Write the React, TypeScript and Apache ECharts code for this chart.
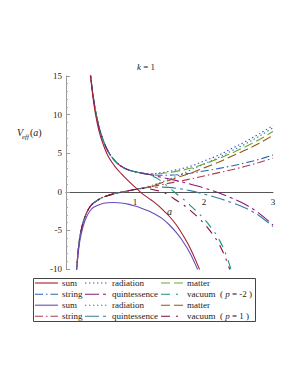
import React, { useEffect, useRef } from "react";
import * as echarts from "echarts";

// ---- data ----
const aUpHead = [0.345, 0.4, 0.45, 0.5, 0.6, 0.7, 0.8, 0.9, 1.0, 1.1];
const vUpHead = [15.9, 12.0, 9.5, 7.7, 5.4, 4.1, 3.3, 2.85, 2.6, 2.42];

const aLowHead = [0.145, 0.17, 0.2, 0.25, 0.3, 0.35, 0.4, 0.5, 0.6, 0.7, 0.8, 0.9, 1.0, 1.1];
const vLowHead = [-11.2, -8.3, -5.9, -3.9, -2.7, -1.9, -1.45, -0.85, -0.5, -0.25, -0.05, 0.12, 0.3, 0.45];

const aTail = [1.2, 1.4, 1.6, 1.8, 2.0, 2.2, 2.4, 2.6, 2.8, 3.0];
const radiationUp = [2.32, 2.5, 2.85, 3.3, 4.0, 4.7, 5.6, 6.5, 7.5, 8.6];
const matterUp = [2.28, 2.4, 2.65, 3.05, 3.6, 4.25, 5.0, 5.85, 6.75, 7.8];
const stringUp = [2.25, 2.15, 2.2, 2.4, 2.7, 3.0, 3.35, 3.75, 4.2, 4.75];
const quintUp = [2.25, 1.85, 1.45, 1.0, 0.5, -0.1, -0.8, -1.65, -2.8, -4.3];

const radiationLow = [0.7, 1.3, 2.0, 2.8, 3.6, 4.4, 5.3, 6.2, 7.2, 8.3];
const matterLow = [0.65, 1.2, 1.8, 2.4, 3.1, 3.8, 4.6, 5.4, 6.3, 7.3];
const stringLow = [0.6, 0.95, 1.3, 1.65, 2.05, 2.45, 2.85, 3.3, 3.8, 4.35];
const quintLow = [0.55, 0.6, 0.45, 0.15, -0.3, -0.8, -1.4, -2.1, -3.1, -4.5];

const aVac = [1.2, 1.3, 1.4, 1.5, 1.6, 1.7, 1.8, 1.9, 2.0, 2.1, 2.2, 2.3, 2.4];
const vacuumUp = [2.2, 1.85, 1.25, 0.5, -0.25, -0.95, -1.75, -2.6, -3.5, -4.6, -5.9, -7.7, -10.3];
const vacuumLow = [0.4, 0.2, 0.0, -0.5, -1.1, -1.7, -2.4, -3.2, -4.1, -5.2, -6.5, -8.3, -10.8];

const aSumUp = [0.345, 0.4, 0.45, 0.5, 0.6, 0.7, 0.8, 0.9, 1.0, 1.1, 1.2, 1.3, 1.4, 1.5, 1.6, 1.7, 1.8, 1.9, 1.96];
const sumUp = [15.9, 11.6, 9.0, 7.2, 4.8, 3.4, 2.35, 1.45, 0.6, -0.2, -0.85, -1.5, -2.3, -3.2, -4.3, -5.7, -7.3, -9.3, -10.6];

const aSumLow = [0.145, 0.17, 0.2, 0.25, 0.3, 0.35, 0.4, 0.5, 0.6, 0.7, 0.8, 0.9, 1.0, 1.1, 1.2, 1.3, 1.4, 1.5, 1.6, 1.7, 1.8, 1.9, 1.93];
const sumLow = [-11.3, -8.6, -6.4, -4.4, -3.2, -2.45, -2.0, -1.6, -1.42, -1.38, -1.45, -1.6, -1.85, -2.15, -2.5, -2.95, -3.5, -4.3, -5.3, -6.5, -8.0, -9.9, -10.6];

const xMin = 0, xMax = 3, xStep = 1;
const yMin = -10, yMax = 15, yStep = 5;

const legendLabels = [
  "sum", "radiation", "matter",
  "string", "quintessence", "vacuum  ( {i|p} = -2 )",
  "sum", "radiation", "matter",
  "string", "quintessence", "vacuum  ( {i|p} = 1 )",
];

// ---- styles ----
const FONT = "'Liberation Serif', 'DejaVu Serif', serif";
const DOT = [1.4, 2.6];
const DASH_M = [9, 4];
const DASH_S = [8, 3, 1.5, 3];
const DASH_Q = [14, 4, 3, 4];
const DASH_V = [9, 6, 2, 6];

const styles = [
  { color: "#a3202c", dash: "solid" },  // sum p=-2
  { color: "#3a4fc4", dash: DOT },      // radiation p=-2
  { color: "#6aa82e", dash: DASH_M },   // matter p=-2
  { color: "#2f62ad", dash: DASH_S },   // string p=-2
  { color: "#8a1588", dash: DASH_Q },   // quintessence p=-2
  { color: "#17927f", dash: DASH_V },   // vacuum p=-2
  { color: "#6a4abb", dash: "solid" },  // sum p=1
  { color: "#2d7fa0", dash: DOT },      // radiation p=1
  { color: "#955512", dash: DASH_M },   // matter p=1
  { color: "#b03a4e", dash: DASH_S },   // string p=1
  { color: "#327f9c", dash: DASH_Q },   // quintessence p=1
  { color: "#85093f", dash: DASH_V },   // vacuum p=1
];

function pairs(a: number[], v: number[]) {
  return a.map((x, i) => [x, v[i]]);
}

export default function App() {
  const ref = useRef<HTMLDivElement>(null);
  useEffect(() => {
    const chart = echarts.init(ref.current!, null, { renderer: "svg" });
    const datasets = [
      pairs(aSumUp, sumUp),
      pairs(aUpHead.concat(aTail), vUpHead.concat(radiationUp)),
      pairs(aUpHead.concat(aTail), vUpHead.concat(matterUp)),
      pairs(aUpHead.concat(aTail), vUpHead.concat(stringUp)),
      pairs(aUpHead.concat(aTail), vUpHead.concat(quintUp)),
      pairs(aUpHead.concat(aVac), vUpHead.concat(vacuumUp)),
      pairs(aSumLow, sumLow),
      pairs(aLowHead.concat(aTail), vLowHead.concat(radiationLow)),
      pairs(aLowHead.concat(aTail), vLowHead.concat(matterLow)),
      pairs(aLowHead.concat(aTail), vLowHead.concat(stringLow)),
      pairs(aLowHead.concat(aTail), vLowHead.concat(quintLow)),
      pairs(aLowHead.concat(aVac), vLowHead.concat(vacuumLow)),
    ];
    const series = datasets.map((d, i) => ({
      type: "line",
      data: d,
      smooth: 0.35,
      showSymbol: false,
      symbol: "none",
      clip: true,
      lineStyle: { color: styles[i].color, width: 1.1, type: styles[i].dash },
      z: 2 + (i % 6 === 0 ? 1 : 0),
    }));

    const legendX = [35, 85, 161];
    const legendTextX = [62, 112, 187];
    const legendY = [283, 294.2, 305.2, 316.2];
    const legendEls: any[] = [
      {
        type: "rect",
        shape: { x: 33.5, y: 278.5, width: 222, height: 43 },
        style: { fill: "#fff", stroke: "#444", lineWidth: 1 },
        z: 10,
      },
    ];
    legendLabels.forEach((lab, i) => {
      const r = Math.floor(i / 3);
      const c = i % 3;
      const st = styles[i];
      legendEls.push({
        type: "line",
        shape: { x1: legendX[c], y1: legendY[r], x2: legendX[c] + 23, y2: legendY[r] },
        style: {
          stroke: st.color,
          lineWidth: 1.1,
          lineDash: st.dash === "solid" ? null : st.dash,
        },
        z: 11,
      });
      legendEls.push({
        type: "text",
        x: legendTextX[c],
        y: legendY[r],
        style: {
          text: lab,
          fontFamily: FONT,
          fontSize: 9,
          fill: "#222",
          verticalAlign: "middle",
          textVerticalAlign: "middle",
          rich: { i: { fontStyle: "italic", fontFamily: FONT, fontSize: 9, fill: "#222" } },
        },
        z: 11,
      });
    });

    const option: any = {
      animation: false,
      backgroundColor: "#fff",
      grid: { left: 66, top: 76, width: 207, height: 193, containLabel: false },
      xAxis: {
        type: "value",
        min: xMin,
        max: xMax,
        interval: xStep,
        axisLine: { show: true, onZero: true, lineStyle: { color: "#555", width: 1 } },
        axisTick: { show: false },
        axisLabel: {
          margin: -72,
          fontFamily: FONT,
          fontSize: 9,
          color: "#222",
          formatter: (v: number) => (v === 0 ? "" : String(v)),
        },
        splitLine: { show: false },
      },
      yAxis: {
        type: "value",
        min: yMin,
        max: yMax,
        interval: yStep,
        axisLine: { show: true, onZero: false, lineStyle: { color: "#999", width: 1 } },
        axisTick: { show: true, inside: true, length: 4, lineStyle: { color: "#999" } },
        minorTick: { show: true, splitNumber: 5, length: 2, lineStyle: { color: "#aaa" } },
        axisLabel: { margin: 4, fontFamily: FONT, fontSize: 9, color: "#222" },
        splitLine: { show: false },
      },
      series,
      graphic: [
        {
          type: "text",
          x: 146,
          y: 67,
          style: {
            text: "{i|k} = 1",
            fontFamily: FONT,
            fontSize: 9,
            fill: "#222",
            align: "center",
            textAlign: "center",
            verticalAlign: "middle",
            textVerticalAlign: "middle",
            rich: { i: { fontStyle: "italic", fontFamily: FONT, fontSize: 9, fill: "#222" } },
          },
        },
        {
          type: "text",
          x: 17,
          y: 127,
          style: { text: "V", fontFamily: FONT, fontStyle: "italic", fontSize: 10, fill: "#222" },
        },
        {
          type: "text",
          x: 22,
          y: 133,
          style: { text: "eff", fontFamily: FONT, fontStyle: "italic", fontSize: 7, fill: "#222" },
        },
        {
          type: "text",
          x: 30,
          y: 127,
          style: { text: "({i|a})", fontFamily: FONT, fontSize: 10, fill: "#222", rich: { i: { fontStyle: "italic", fontFamily: FONT, fontSize: 10, fill: "#222" } } },
        },
        {
          type: "text",
          x: 167,
          y: 206,
          style: { text: "a", fontFamily: FONT, fontStyle: "italic", fontSize: 10, fill: "#222" },
        },
        ...legendEls,
      ],
    };
    chart.setOption(option);
    return () => chart.dispose();
  }, []);
  return (
    <div
      ref={ref}
      style={{ position: "fixed", left: 0, top: 0, width: 298, height: 385, background: "#fff" }}
    />
  );
}
